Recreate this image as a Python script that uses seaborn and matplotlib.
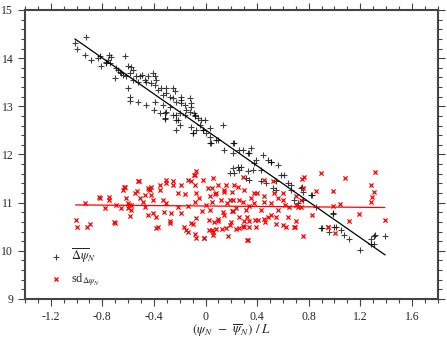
import matplotlib

matplotlib.use("Agg")
import matplotlib.pyplot as plt
import numpy as np
import pandas as pd
import seaborn as sns
from matplotlib.ticker import MultipleLocator

# mean delta psi_N (black +)
mean_x = [
    -1.013, -0.929, -1.0, -0.936, -0.892, -0.833, -0.82, -0.81, -0.774, -0.748,
    -0.73, -0.756, -0.627, -0.699, -0.678, -0.652, -0.6, -0.588, -0.588, -0.523,
    -0.459, -0.511, -0.395, -0.4, -0.356, -0.317, -0.227, -0.111, -0.098, -0.111,
    -0.188, -0.252, -0.6, -0.575, -0.562, -0.588, -0.536, -0.523, -0.49, -0.446,
    -0.459, -0.42, -0.395, -0.368, -0.343, -0.33, -0.304, -0.279, -0.252, -0.227,
    -0.188, -0.163, -0.149, -0.124, -0.085, -0.059, -0.033, -0.046, -0.02, -0.163,
    -0.201, -0.279, -0.33, -0.395, -0.472, -0.407, -0.382, -0.304, -0.24, -0.188,
    -0.124, -0.111, -0.304, -0.252, -0.691, -0.666, -0.64, -0.62, -0.562, -0.743,
    -0.769, -0.317, -0.317, -0.227, -0.214, -0.085, -0.2, -0.227, -0.098, -0.02,
    0.031, 0.036, 0.096, 0.212, 0.212, 0.263, 0.328, 0.354, 0.392, 0.483,
    0.212, 0.186, 0.25, 0.263, 0.315, 0.367, 0.431, 0.47, 0.547, 0.611,
    0.663, 0.689, -0.09, -0.008, -0.072, 0.031, 0.005, 0.083, 0.135, 0.044,
    0.147, 0.224, 0.29, 0.34, 0.444, 0.379, 0.276, 0.224, 0.328, 0.34,
    0.431, 0.508, 0.547, 0.586, 0.522, 0.638, 0.663, 0.741, 0.818, 0.715,
    0.754, 0.748, 0.754, 0.823, 0.857, 0.986, 0.896, 0.998, 0.56, 0.508,
    0.901, 0.955, 1.05, 1.076, 1.115, 1.2, 1.283, 1.303, 1.313, 1.283,
    1.303, 1.393, 1.01, 0.986,
]
mean_y = [
    14.31, 14.43, 14.19, 14.07, 13.96, 14.0, 14.05, 13.84, 13.89, 14.07,
    14.03, 13.96, 14.05, 13.58, 13.76, 13.69, 13.38, 13.2, 13.12, 13.1,
    13.03, 13.62, 13.62, 12.93, 12.86, 12.73, 12.72, 12.58, 12.44, 13.06,
    13.13, 13.38, 13.84, 13.82, 13.76, 13.69, 13.62, 13.51, 13.65, 13.62,
    13.51, 13.48, 13.44, 13.34, 13.38, 13.24, 13.27, 13.2, 13.17, 13.1,
    13.06, 13.03, 12.93, 12.89, 12.82, 12.75, 12.72, 12.61, 12.51, 12.82,
    12.86, 12.99, 13.03, 13.1, 13.55, 13.69, 13.55, 13.38, 13.31, 13.2,
    13.17, 12.99, 12.89, 12.82, 13.79, 13.72, 13.65, 13.62, 13.55, 13.89,
    13.93, 12.86, 12.75, 12.82, 12.72, 12.79, 12.61, 12.51, 12.44, 12.51,
    12.37, 12.23, 12.3, 12.23, 12.03, 12.1, 12.03, 12.13, 11.89, 11.89,
    11.72, 11.61, 11.75, 11.68, 11.51, 11.68, 11.68, 11.4, 11.27, 11.58,
    11.27, 11.06, 12.86, 12.72, 12.51, 12.55, 12.44, 12.3, 12.61, 12.23,
    12.1, 12.23, 12.1, 12.03, 11.99, 11.82, 11.75, 11.61, 11.65, 11.47,
    11.44, 11.85, 11.44, 11.58, 11.3, 11.4, 11.37, 11.3, 11.16, 10.99,
    11.23, 11.33, 11.06, 11.16, 10.92, 10.78, 10.47, 10.5, 11.78, 11.85,
    10.48, 10.4, 10.44, 10.33, 10.24, 10.02, 10.24, 10.3, 10.32, 10.15,
    10.15, 10.31, 10.5, 10.77,
]

# sd of delta psi_N (red x)
sd_x = [
    -1.008, -1.0, -0.923, -0.898, -0.936, -0.827, -0.815, -0.776, -0.749, -0.704,
    -0.691, -0.637, -0.625, -0.614, -0.652, -0.6, -0.575, -0.575, -0.588, -0.544,
    -0.53, -0.523, -0.511, -0.485, -0.472, -0.44, -0.43, -0.42, -0.407, -0.446,
    -0.382, -0.368, -0.745, -0.709, -0.633, -0.59, -0.518, -0.446, -0.407, -0.356,
    -0.356, -0.33, -0.323, -0.279, -0.265, -0.304, -0.25, -0.214, -0.211, -0.188,
    -0.163, -0.134, -0.188, -0.09, -0.111, -0.085, -0.072, -0.085, -0.072, -0.111,
    -0.149, -0.072, -0.02, 0.021, 0.057, 0.083, 0.052, 0.005, 0.029, -0.026,
    0.029, 0.083, 0.057, -0.01, -0.42, -0.304, -0.252, -0.136, -0.085, -0.072,
    0.052, 0.147, 0.224, 0.29, 0.25, 0.354, 0.212, 0.263, 0.122, 0.036,
    0.315, 0.379, 0.457, 0.508, 0.56, 0.599, 0.702, 0.754, 0.766, 0.56,
    0.483, 0.405, 0.334, 0.263, 0.212, 0.135, 0.186, 0.302, 0.096, 0.031,
    0.431, 0.547, 0.638, 0.702, 0.625, -0.382, -0.279, -0.165, -0.136, -0.098,
    -0.08, -0.01, 0.052, 0.068, 0.129, 0.173, 0.199, 0.238, 0.29, 0.328,
    0.34, 0.392, 0.462, 0.547, 0.599, 0.689, 0.754, 0.896, 0.746, 1.081,
    1.313, 1.283, 1.309, 1.291, 1.283, 0.986, 0.857, 0.986, 1.045, 0.823,
    1.192, 1.115, 1.391, 0.718, 0.74, 0.947, 0.695, 0.952, 1.004, 0.648,
    0.508, 0.45, 0.702, 0.74, 0.528, 0.457, 0.373, 0.334, 0.29, 0.238,
    0.207, 0.141, 0.096, 0.057, 0.16, 0.261, 0.296, 0.323, 0.386, 0.193,
    0.147, 0.096, 0.077, 0.16, 0.207, 0.302, 0.522, 0.457, 0.599, 0.323,
    -0.6, -0.47, -0.31, -0.05, 0.17, 0.4, 0.62,
]
sd_y = [
    10.64, 10.5, 10.49, 10.56, 10.99, 11.12, 11.1, 10.89, 11.06, 10.57,
    10.95, 11.27, 11.33, 11.09, 10.89, 10.89, 10.95, 10.85, 10.73, 11.2,
    11.25, 11.44, 11.09, 11.02, 10.92, 11.29, 11.26, 11.16, 11.06, 10.75,
    10.71, 10.5, 11.12, 10.59, 11.33, 10.95, 11.44, 11.3, 10.78, 11.27,
    11.37, 11.06, 10.8, 10.62, 10.78, 11.4, 11.37, 11.21, 10.92, 11.37,
    11.18, 10.93, 10.78, 11.58, 11.44, 11.37, 11.21, 11.02, 10.68, 10.57,
    10.44, 10.26, 11.47, 11.31, 11.51, 11.2, 11.02, 10.95, 10.64, 10.82,
    10.44, 10.45, 10.33, 10.27, 11.33, 11.47, 11.44, 11.47, 11.58, 11.65,
    11.31, 11.27, 11.37, 11.54, 11.33, 11.09, 11.06, 11.06, 11.06, 11.14,
    10.85, 10.99, 11.13, 10.99, 11.09, 11.06, 10.95, 11.3, 11.54, 10.85,
    10.71, 10.64, 10.61, 10.7, 10.82, 10.8, 10.54, 10.49, 10.66, 10.85,
    10.85, 10.71, 10.71, 10.61, 10.5, 10.47, 10.57, 10.49, 10.4, 10.56,
    10.35, 10.27, 10.44, 10.59, 10.46, 10.3, 10.59, 10.46, 10.52, 10.23,
    10.5, 10.5, 10.6, 10.55, 10.54, 10.5, 10.3, 11.61, 11.49, 11.51,
    11.64, 11.37, 11.23, 11.11, 11.02, 11.25, 11.24, 10.93, 10.98, 10.75,
    10.77, 10.61, 10.63, 10.91, 10.92, 10.49, 10.49, 10.49, 10.37, 10.9,
    10.75, 10.66, 11.14, 11.06, 11.21, 11.02, 11.2, 10.94, 11.02, 10.89,
    10.83, 10.75, 10.61, 10.4, 10.48, 10.48, 10.61, 10.7, 10.64, 11.06,
    11.23, 11.37, 11.18, 11.37, 11.23, 11.27, 11.44, 11.47, 11.2, 10.23,
    11.0, 11.15, 11.0, 11.1, 11.0, 11.2, 10.95,
]

mean_df = pd.DataFrame({"x": mean_x, "y": mean_y})
sd_df = pd.DataFrame({"x": sd_x, "y": sd_y})

sns.set_style("ticks")
plt.rcParams["font.family"] = ["Liberation Serif", "DejaVu Serif"]
plt.rcParams["mathtext.fontset"] = "stix"

fig = plt.figure(figsize=(4.47, 3.40), dpi=100)
ax = fig.add_axes([0.056, 0.1206, 0.923, 0.85])

sns.scatterplot(data=mean_df, x="x", y="y", marker="+", color="black", s=22,
                linewidth=0.8, alpha=0.75, ax=ax, label=r"$\overline{\Delta\psi}_N$")
sns.scatterplot(data=sd_df, x="x", y="y", marker="x", color="red", s=9,
                linewidth=0.9, ax=ax, label=r"sd$_{\Delta\psi_N}$")
sns.regplot(data=mean_df, x="x", y="y", scatter=False, ci=None, truncate=True,
            color="black", line_kws={"linewidth": 0.9}, ax=ax)
sns.regplot(data=sd_df, x="x", y="y", scatter=False, ci=None, truncate=True,
            color="red", line_kws={"linewidth": 0.9}, ax=ax)

ax.set_xlim(-1.4, 1.8)
ax.set_ylim(9, 15)
ax.xaxis.set_major_locator(MultipleLocator(0.4))
ax.xaxis.set_minor_locator(MultipleLocator(0.1))
ax.yaxis.set_major_locator(MultipleLocator(1))
ax.yaxis.set_minor_locator(MultipleLocator(0.2))
ax.set_xticks([-1.2, -0.8, -0.4, 0, 0.4, 0.8, 1.2, 1.6])
ax.set_xticklabels(["-1.2", "-0.8", "-0.4", "0", "0.4", "0.8", "1.2", "1.6"])
ax.tick_params(which="both", direction="out", top=True, right=True,
               color="#444444", labelsize=8.5, width=0.8)
ax.tick_params(which="major", length=5)
ax.tick_params(which="minor", length=3)
for sp in ax.spines.values():
    sp.set_linewidth(1.5)
    sp.set_color("#444444")

ax.set_xlabel(r"$(\psi_N\ \ \mathrm{-}\ \ \overline{\psi}_N)\ /\ L$", fontsize=9.5, labelpad=0)
ax.set_ylabel("")

ax.legend(loc="lower left", bbox_to_anchor=(0.03, 0.0), frameon=False,
          fontsize=9, handletextpad=0.6, labelspacing=0.5, markerscale=1.0,
          handlelength=1.2)

fig.savefig("out.png", dpi=100)
